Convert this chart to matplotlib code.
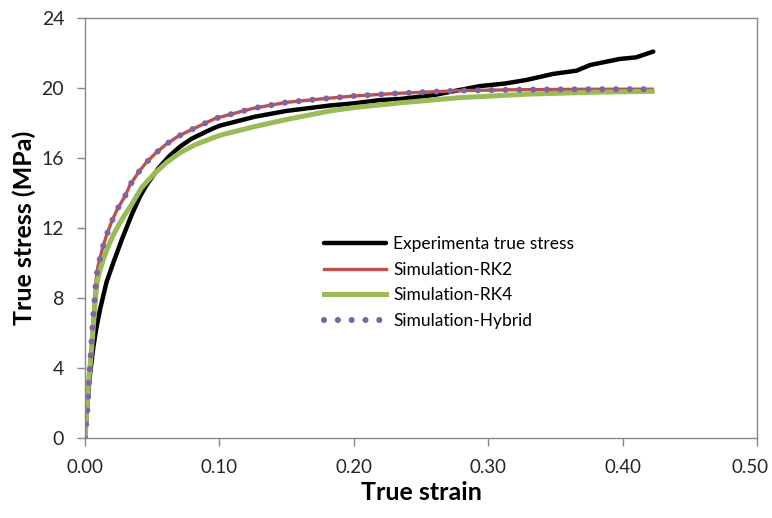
import matplotlib
matplotlib.use("Agg")
import matplotlib.pyplot as plt
from matplotlib.ticker import FixedLocator, FixedFormatter, MultipleLocator

plt.rcParams['font.family'] = ['Lato', 'DejaVu Sans']

# experimental true stress-strain curve
exp_strain = [0, 0.0015, 0.0032, 0.0062, 0.0085, 0.0112, 0.016, 0.021, 0.0272, 0.0347,
              0.0409, 0.0458, 0.0545, 0.062, 0.067, 0.0707, 0.0793, 0.0955, 0.1004,
              0.1265, 0.150, 0.1823, 0.1997, 0.2195, 0.2344, 0.260, 0.279, 0.294,
              0.312, 0.3286, 0.348, 0.3658, 0.3757, 0.398, 0.410, 0.4228]
exp_stress = [0, 1.6, 3.3, 5.2, 6.3, 7.35, 8.9, 10.0, 11.3, 12.75,
              13.8, 14.46, 15.4, 16.05, 16.4, 16.65, 17.1, 17.7, 17.85,
              18.36, 18.69, 19.0, 19.12, 19.31, 19.37, 19.6, 19.89, 20.11,
              20.25, 20.46, 20.8, 20.99, 21.31, 21.66, 21.75, 22.08]

# simulation, RK2
rk2_strain = [0, 0.0008, 0.0017, 0.0027, 0.0042, 0.0054, 0.0069, 0.0082, 0.0095, 0.0106,
              0.0131, 0.0161, 0.0198, 0.024, 0.030, 0.0335, 0.040, 0.0451, 0.0525,
              0.0603, 0.0689, 0.0776, 0.0868, 0.0967, 0.1066, 0.1252, 0.150, 0.1749,
              0.1997, 0.2344, 0.279, 0.320, 0.360, 0.400, 0.422]
rk2_stress = [0, 0.75, 1.5, 3.08, 4.65, 6.17, 7.73, 9.0, 9.75, 10.1,
              10.87, 11.6, 12.36, 13.07, 13.85, 14.46, 15.2, 15.7, 16.27,
              16.78, 17.22, 17.56, 17.89, 18.25, 18.46, 18.84, 19.18, 19.37,
              19.54, 19.7, 19.85, 19.9, 19.92, 19.93, 19.93]

# simulation, RK4
rk4_strain = [0, 0.0012, 0.0025, 0.005, 0.0074, 0.009, 0.0112, 0.0140, 0.0173, 0.0210,
              0.026, 0.030, 0.0335, 0.0421, 0.0508, 0.0608, 0.0707, 0.0818, 0.0955,
              0.1029, 0.1265, 0.150, 0.1823, 0.2, 0.2344, 0.279, 0.330, 0.380, 0.422]
rk4_stress = [0, 1.3, 3.0, 5.2, 7.6, 8.9, 9.6, 10.3, 10.95, 11.6,
              12.3, 12.8, 13.2, 14.3, 15.05, 15.75, 16.3, 16.75, 17.16,
              17.35, 17.8, 18.2, 18.69, 18.88, 19.15, 19.45, 19.65, 19.76, 19.81]

# simulation, hybrid scheme (overlaps RK2)
hyb_strain = list(rk2_strain)
hyb_stress = list(rk2_stress)

strain_ticks = [0.0, 0.1, 0.2, 0.3, 0.4, 0.5]
strain_labels = ['0.00', '0.10', '0.20', '0.30', '0.40', '0.50']

fig = plt.figure(figsize=(7.72, 5.18), dpi=100)
ax = fig.add_axes([0.1101, 0.1544, 0.8705, 0.8109])

ax.plot(exp_strain, exp_stress, color='black', lw=3.2, solid_capstyle='round',
        label='Experimenta true stress')
ax.plot(rk2_strain, rk2_stress, color='#C0504D', lw=2.4, label='Simulation-RK2')
ax.plot(rk4_strain, rk4_stress, color='#9BBB59', lw=3.6, label='Simulation-RK4')
ax.plot(hyb_strain, hyb_stress, color='#8064A2', lw=4.4, linestyle=(0, (0.01, 2.25)),
        dash_capstyle='round', label='Simulation-Hybrid')

ax.set_xlim(0, 0.5)
ax.set_ylim(0, 24)
ax.yaxis.set_major_locator(MultipleLocator(4))
# last strain label is drawn separately, pulled in a little from the edge
ax.xaxis.set_major_locator(FixedLocator(strain_ticks))
ax.xaxis.set_major_formatter(FixedFormatter(strain_labels[:-1] + ['']))

for s in ax.spines.values():
    s.set_color('#878787')
    s.set_linewidth(1.0)
ax.tick_params(direction='out', length=6, width=1.0, color='#878787',
               labelsize=14, labelcolor='#262626', pad=9)
ax.tick_params(axis='x', labelsize=13.5)

ax.annotate(strain_labels[-1], xy=(strain_ticks[-1], 0),
            xycoords=('data', 'axes fraction'), xytext=(-5, -(6 + 9)),
            textcoords='offset points', ha='center', va='top',
            fontsize=13.5, color='#262626', annotation_clip=False)

ax.set_xlabel('True strain', fontsize=18, fontweight='bold', labelpad=4)
ax.set_ylabel('True stress (MPa)', fontsize=18, fontweight='bold', labelpad=4)

ax.legend(loc='upper left', bbox_to_anchor=(0.345, 0.497), frameon=False,
          fontsize=12.5, handlelength=3.6, handletextpad=0.4, labelspacing=0.55,
          borderaxespad=0)

fig.savefig('out.png', dpi=100)
